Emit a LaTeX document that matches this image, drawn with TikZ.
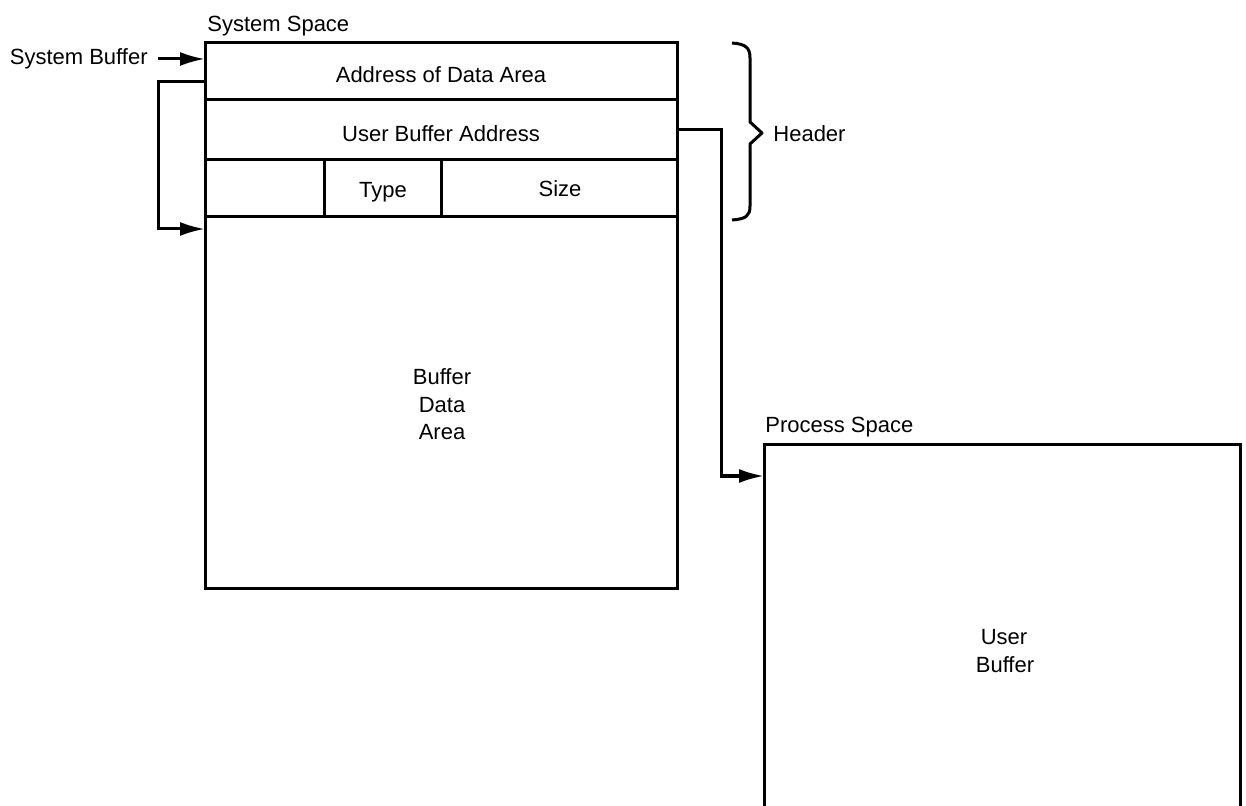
\documentclass[tikz,border=0pt]{standalone}
\usepackage{fontspec}
\setmainfont{Liberation Sans}
\usetikzlibrary{arrows.meta}
\begin{document}
\begin{tikzpicture}[x=0.5pt,y=-0.5pt,
  every node/.style={font=\fontsize{11}{14}\selectfont, inner sep=0pt},
  cell/.style={draw, line width=1.5pt, rectangle, anchor=center},
  txt/.style={anchor=base},
  conn/.style={line width=1.5pt},
  arr/.style={conn, -{Latex[length=12.5pt,width=7pt]}}]
\useasboundingbox (0,0) rectangle (1246,806);
% system space rows (cells)
\node[cell, minimum width=236pt, minimum height=28.5pt] (addr) at (441,71.5) {};
\node[cell, minimum width=236pt, minimum height=30pt] (uba) at (441,130) {};
\node[cell, minimum width=59.5pt, minimum height=28.5pt] (blank) at (264.5,188.5) {};
\node[cell, minimum width=58.5pt, minimum height=28.5pt] (type) at (382.5,188.5) {};
\node[cell, minimum width=118pt, minimum height=28.5pt] (size) at (559,188.5) {};
\node[cell, minimum width=236pt, minimum height=185.5pt] (data) at (441,402.5) {};
% cell texts
\node[txt] (addrt) at (441,83) {Address of Data Area};
\node[txt] (ubat) at (441,141.5) {User Buffer Address};
\node[txt] (typet) at (383,198) {Type};
\node[txt] (sizet) at (560,197) {Size};
\node[txt] (datat1) at (442,385) {Buffer};
\node[txt] (datat2) at (442,413) {Data};
\node[txt] (datat3) at (442,440) {Area};
\node[anchor=base west] (sysspace) at (207,32) {System Space};
% system buffer pointer
\node[anchor=base east] (sysbuf) at (148,65) {System Buffer};
\coordinate (sbs) at (158,59);
\coordinate (sbin) at (205,59);
\draw[arr] (sbs) -- (sbin);
% loop from address of data area to data area
\coordinate (la) at (205,82);
\coordinate (lb) at (205,229);
\draw[arr] (la) -- (158,82) -- (158,229) -- (lb);
% process space
\node[minimum width=238pt, minimum height=180.5pt, anchor=north west] (proc) at (764,445) {};
\draw[conn] (proc.south west) -- (proc.north west) -- (proc.north east) -- (proc.south east);
\node[anchor=base west] (procspace) at (765,433) {Process Space};
\node[txt] (ubuf1) at (1004,644) {User};
\node[txt] (ubuf2) at (1005,672) {Buffer};
% user buffer address pointer
\coordinate (pin) at (764,476);
\draw[arr] (uba.east) -- (721,130) -- (721,476) -- (pin);
% header brace
\draw[line width=1.5pt, line join=round]
  (732,43) .. controls (746,44) and (750,48) .. (750,58) -- (750,122)
  -- (762,133) -- (750,144) -- (750,206)
  .. controls (750,216) and (746,219) .. (732,220);
\node[anchor=base west] (header) at (773,141.5) {Header};
\end{tikzpicture}
\end{document}
